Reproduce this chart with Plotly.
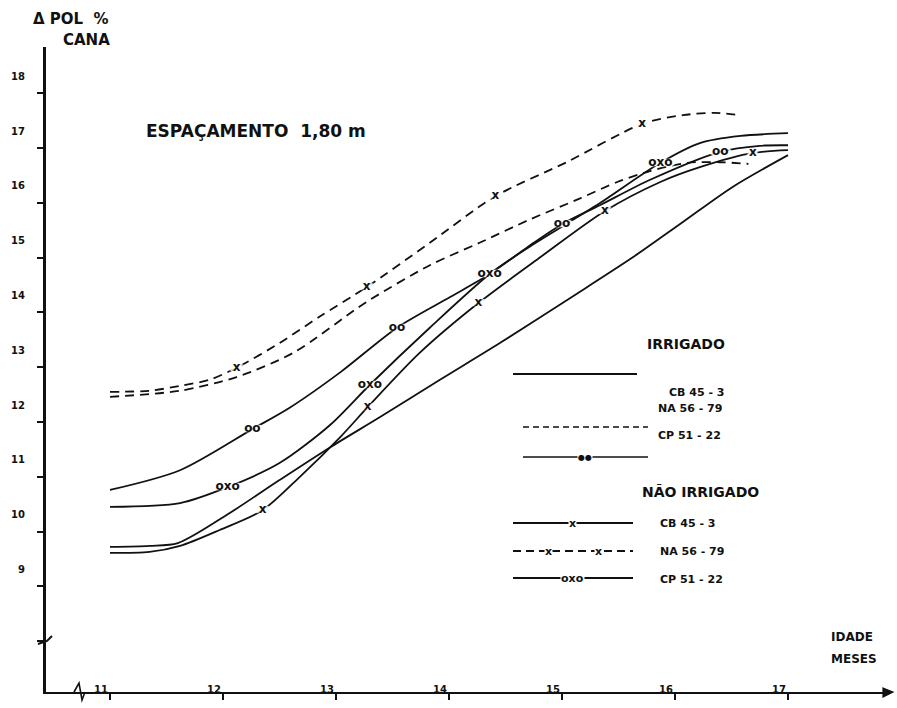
import plotly.graph_objects as go

FONT = "DejaVu Sans"

# ---------------- data: age (months) vs Pol % cana ----------------
# Irrigated
irr_cb_age = [11.0, 11.35, 11.6, 12.06, 12.5, 12.95, 13.39, 13.92, 14.45, 15.07, 15.63, 16.07, 16.51, 17.0]
irr_cb_pol = [9.72, 9.74, 9.79, 10.34, 10.94, 11.54, 12.09, 12.77, 13.44, 14.26, 15.01, 15.65, 16.29, 16.87]

irr_na_age = [11.0, 11.62, 12.12, 12.62, 13.27, 13.83, 14.27, 14.72, 15.16, 15.49, 15.78, 16.11, 16.40, 16.65]
irr_na_pol = [12.46, 12.57, 12.82, 13.26, 14.19, 14.86, 15.27, 15.70, 16.08, 16.38, 16.58, 16.73, 16.74, 16.71]

irr_cp_age = [11.0, 11.62, 12.26, 12.59, 13.04, 13.54, 14.01, 14.36, 14.70, 15.00, 15.34, 15.78, 16.40, 16.75, 17.0]
irr_cp_pol = [10.76, 11.12, 11.87, 12.26, 12.91, 13.72, 14.28, 14.70, 15.20, 15.61, 15.96, 16.42, 16.93, 17.04, 17.05]
irr_cp_marks = [2, 5, 9, 12]

# Not irrigated
nirr_cb_age = [11.0, 11.35, 11.62, 11.97, 12.35, 12.68, 13.04, 13.28, 13.74, 14.26, 14.81, 15.38, 15.87, 16.22, 16.69, 17.0]
nirr_cb_pol = [9.61, 9.63, 9.74, 10.03, 10.39, 11.0, 11.73, 12.27, 13.26, 14.17, 15.01, 15.85, 16.38, 16.65, 16.91, 16.96]
nirr_cb_marks = [4, 7, 9, 11, 14]

nirr_na_age = [11.0, 11.35, 11.62, 11.88, 12.12, 12.50, 12.86, 13.27, 13.83, 14.41, 15.04, 15.71, 16.07, 16.35, 16.58]
nirr_na_pol = [12.55, 12.57, 12.66, 12.77, 12.99, 13.44, 13.93, 14.46, 15.27, 16.12, 16.74, 17.44, 17.60, 17.64, 17.60]
nirr_na_marks = [4, 7, 9, 11]

nirr_cp_age = [11.0, 11.62, 12.04, 12.50, 12.95, 13.30, 13.83, 14.36, 14.70, 14.98, 15.34, 15.87, 16.22, 16.58, 17.0]
nirr_cp_pol = [10.45, 10.52, 10.81, 11.25, 11.95, 12.68, 13.72, 14.70, 15.18, 15.54, 16.00, 16.73, 17.09, 17.22, 17.27]
nirr_cp_marks = [2, 5, 7, 11]

x_ticks = [11, 12, 13, 14, 15, 16, 17]
y_ticks = [8, 9, 10, 11, 12, 13, 14, 15, 16, 17, 18]
y_tick_text = ["", "9", "10", "11", "12", "13", "14", "15", "16", "17", "18"]

# ---------------- page geometry (pixels) ----------------
W, H = 897, 708
PL, PR, PT, PB = 46, 890, 47, 692          # plot-area edges
X0_PX, X_STEP = 110, 113.0                 # pixel of month 11, px per month
Y17_PX, Y_STEP = 148, 54.8                 # pixel of pol 17, px per unit

x_range = [11 + (PL - X0_PX) / X_STEP, 11 + (PR - X0_PX) / X_STEP]
y_range = [17 - (PB - Y17_PX) / Y_STEP, 17 + (Y17_PX - PT) / Y_STEP]


def px(x):
    return (x - PL) / (PR - PL)


def py(y):
    return (PB - y) / (PB - PT)


BLACK = "#111111"
fig = go.Figure()

curves = [
    (irr_cb_age, irr_cb_pol, "solid", None, None),
    (irr_na_age, irr_na_pol, "9px,6px", None, None),
    (irr_cp_age, irr_cp_pol, "solid", irr_cp_marks, "oo"),
    (nirr_cb_age, nirr_cb_pol, "solid", nirr_cb_marks, "x"),
    (nirr_na_age, nirr_na_pol, "9px,6px", nirr_na_marks, "x"),
    (nirr_cp_age, nirr_cp_pol, "solid", nirr_cp_marks, "oxo"),
]

for ages, pols, dash, marks, label in curves:
    fig.add_trace(go.Scatter(
        x=ages, y=pols, mode="lines",
        line=dict(color=BLACK, width=1.8, dash=dash, shape="spline", smoothing=0.8),
        hoverinfo="skip", showlegend=False,
    ))

for ages, pols, dash, marks, label in curves:
    if not marks:
        continue
    fig.add_trace(go.Scatter(
        x=[ages[i] for i in marks], y=[pols[i] for i in marks],
        mode="text", text=[label] * len(marks),
        textfont=dict(family=FONT, size=12, color=BLACK, weight="bold",
                      shadow="3px 0 1px white, -3px 0 1px white, 0 0 2px white"),
        hoverinfo="skip", showlegend=False,
    ))

shapes = []
annotations = []


def text(s, x, y, size=13, anchor="left"):
    annotations.append(dict(
        text=s, x=px(x), y=py(y), xref="paper", yref="paper",
        xanchor=anchor, yanchor="middle", showarrow=False,
        font=dict(family=FONT, size=size, color=BLACK, weight="bold"),
    ))


def hline(x1, x2, y, dash="solid", width=1.8):
    shapes.append(dict(
        type="line", xref="paper", yref="paper",
        x0=px(x1), x1=px(x2), y0=py(y), y1=py(y),
        line=dict(color=BLACK, width=width, dash=dash),
    ))


def mark(s, x, y, size=11):
    annotations.append(dict(
        text=s, x=px(x), y=py(y), xref="paper", yref="paper",
        xanchor="center", yanchor="middle", showarrow=False, bgcolor="white",
        borderpad=0, font=dict(family=FONT, size=size, color=BLACK, weight="bold"),
    ))


# titles
text("Δ POL  %", 31, 19, 15)
text("CANA", 61, 40, 15)
text("ESPAÇAMENTO  1,80 m", 144, 131, 17)
text("IDADE", 829, 637, 12)
text("MESES", 829, 659, 12)

# key: irrigated
text("IRRIGADO", 645, 344, 14)
hline(513, 637, 374, width=2)
text("CB 45 - 3", 667, 392, 11)
text("NA 56 - 79", 656, 408, 11)
hline(523, 648, 427, dash="6px,4px", width=1.5)
text("CP 51 - 22", 656, 435, 11)
hline(523, 648, 457, width=1.3)
mark("●●", 585, 457, 8)

# key: not irrigated
text("NÃO IRRIGADO", 640, 492, 14)
hline(513, 633, 523)
mark("x", 572, 523)
text("CB 45 - 3", 658, 523, 11)
hline(513, 633, 551, dash="8px,5px")
mark("x", 548, 551)
mark("x", 598, 551)
text("NA 56 - 79", 658, 551, 11)
hline(513, 633, 578)
mark("oxo", 572, 578)
text("CP 51 - 22", 658, 579, 11)

# axis break on the y axis
shapes.append(dict(type="path", xref="paper", yref="paper",
                   path=f"M {px(38)} {py(644)} L {px(47)} {py(641)} L {px(52)} {py(636)}",
                   line=dict(color=BLACK, width=2)))
# axis break on the x axis
shapes.append(dict(type="path", xref="paper", yref="paper",
                   path=f"M {px(74)} {py(692)} L {px(79)} {py(683)} L {px(82)} {py(700)} L {px(85)} {py(692)}",
                   line=dict(color=BLACK, width=1.6)))
# arrow head at the end of the x axis
shapes.append(dict(type="path", xref="paper", yref="paper",
                   path=f"M {px(883)} {py(688)} L {px(893)} {py(692)} L {px(883)} {py(697)} Z",
                   line=dict(color=BLACK, width=1.2), fillcolor=BLACK))

fig.update_layout(
    width=W, height=H,
    margin=dict(l=PL, r=W - PR, t=PT, b=H - PB),
    paper_bgcolor="white", plot_bgcolor="white",
    shapes=shapes, annotations=annotations,
    xaxis=dict(
        range=x_range, tickvals=x_ticks, ticktext=[str(v) for v in x_ticks],
        showgrid=False, zeroline=False, showline=True, linecolor=BLACK, linewidth=2,
        ticks="outside", ticklen=6, tickwidth=1.5, tickcolor=BLACK,
        ticklabelposition="inside", ticklabelstandoff=-4, ticklabelshift=-9,
        tickfont=dict(family=FONT, size=10, color=BLACK, weight="bold"),
    ),
    yaxis=dict(
        range=y_range, tickvals=y_ticks, ticktext=y_tick_text,
        showgrid=False, zeroline=False, showline=True, linecolor=BLACK, linewidth=3,
        ticks="outside", ticklen=6, tickwidth=1.5, tickcolor=BLACK,
        ticklabelshift=-17, ticklabelstandoff=10,
        tickfont=dict(family=FONT, size=10, color=BLACK, weight="bold"),
    ),
)

fig.write_html("out.html")
